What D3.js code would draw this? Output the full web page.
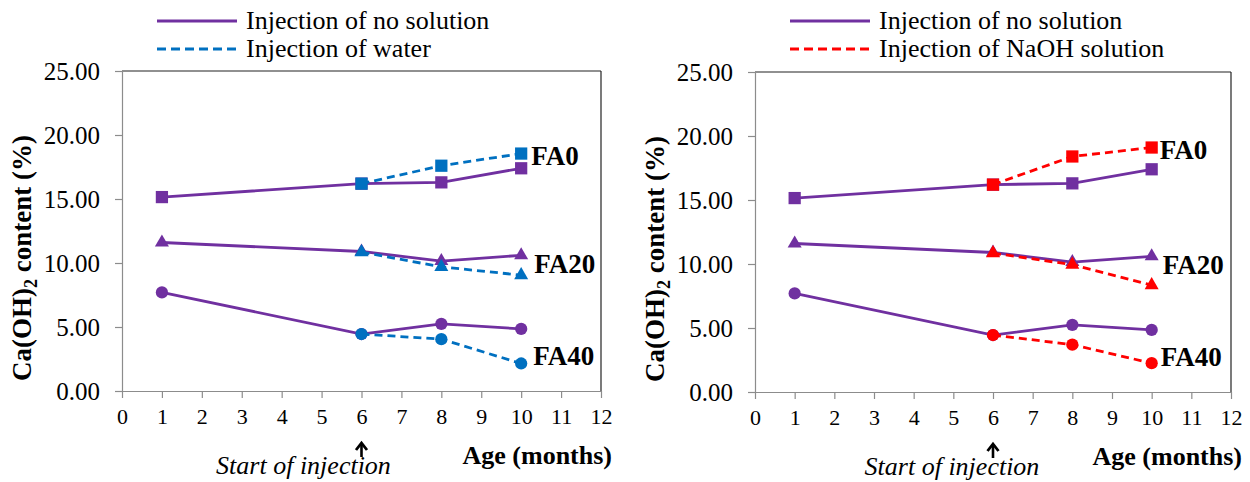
<!DOCTYPE html>
<html>
<head>
<meta charset="utf-8">
<script src="https://cdn.jsdelivr.net/npm/d3@7"></script>
<style>
  html, body { margin: 0; padding: 0; background: #fff; }
  svg { display: block; }
  svg text { font-family: "Liberation Serif", "Times New Roman", Times, "DejaVu Serif", serif; fill: #000; }
</style>
</head>
<body>
<svg id="chart" width="1250" height="482"></svg>
<script>
// ---- data ----
const xTicks = [0,1,2,3,4,5,6,7,8,9,10,11,12];
const yTicks = [0,5,10,15,20,25];
const monthsAll = [1,6,8,10];
const monthsInj = [6,8,10];

const noneFA0  = [15.15, 16.2, 16.3, 17.4];
const noneFA20 = [11.6, 10.9, 10.15, 10.6];
const noneFA40 = [7.7, 4.45, 5.25, 4.85];

const waterFA0  = [16.2, 17.6, 18.55];
const waterFA20 = [10.85, 9.7, 9.05];
const waterFA40 = [4.45, 4.05, 2.15];

const naohFA0  = [16.2, 18.4, 19.1];
const naohFA20 = [10.85, 9.95, 8.35];
const naohFA40 = [4.45, 3.7, 2.25];

const mixLabels = ["FA0", "FA20", "FA40"];
const legendNone = "Injection of no solution";
const legendWater = "Injection of water";
const legendNaOH = "Injection of NaOH solution";

const PURPLE = "#7030A0", BLUE = "#0070C0", RED = "#FF0000";
const SERIF = "'Liberation Serif', 'Times New Roman', serif";

const svg = d3.select("#chart");

function panel(cfg) {
  const x = d3.scaleLinear().domain([0, 12]).range([cfg.left, cfg.right]);
  const y = d3.scaleLinear().domain([0, 25]).range([cfg.bottom, cfg.top]);
  const g = svg.append("g").attr("font-family", SERIF);

  // frame top/right (dark)
  g.append("line").attr("x1", cfg.left).attr("x2", cfg.right).attr("y1", cfg.top).attr("y2", cfg.top)
    .attr("stroke", "#222").attr("stroke-width", 1.2);
  g.append("line").attr("x1", cfg.right).attr("x2", cfg.right).attr("y1", cfg.top).attr("y2", cfg.bottom)
    .attr("stroke", "#222").attr("stroke-width", 1.2);

  // axes
  const xAxis = g.append("g").attr("transform", `translate(0,${cfg.bottom})`)
    .call(d3.axisBottom(x).tickValues(xTicks).tickSize(7).tickSizeOuter(0).tickPadding(10).tickFormat(d3.format("d")));
  xAxis.attr("font-family", SERIF);
  xAxis.select(".domain").attr("stroke", "#8c8c8c").attr("stroke-width", 1.2);
  xAxis.selectAll(".tick line").attr("stroke", "#8c8c8c").attr("stroke-width", 1.2);
  xAxis.selectAll(".tick text").attr("font-size", 22).attr("fill", "#000");

  const yAxis = g.append("g").attr("transform", `translate(${cfg.left},0)`)
    .call(d3.axisLeft(y).tickValues(yTicks).tickSize(7).tickSizeOuter(0).tickPadding(15).tickFormat(d3.format(".2f")));
  yAxis.attr("font-family", SERIF);
  yAxis.select(".domain").attr("stroke", "#8c8c8c").attr("stroke-width", 1.2);
  yAxis.selectAll(".tick line").attr("stroke", "#8c8c8c").attr("stroke-width", 1.2);
  yAxis.selectAll(".tick text").attr("font-size", 25).attr("fill", "#000");

  // y title
  const yt = g.append("text")
    .attr("transform", `translate(${cfg.left - 91},${(cfg.top + cfg.bottom) / 2 + 27}) rotate(-90)`)
    .attr("text-anchor", "middle").attr("font-weight", "bold").attr("font-size", 27);
  yt.append("tspan").text("Ca(OH)");
  yt.append("tspan").text("2").attr("font-size", 18).attr("dy", 6);
  yt.append("tspan").text(" content (%)").attr("dy", -6);

  // x title
  g.append("text").attr("x", cfg.right + 11).attr("y", cfg.bottom + 73)
    .attr("text-anchor", "end").attr("font-weight", "bold").attr("font-size", 26).text("Age (months)");

  // start of injection annotation
  const ax = x(6);
  g.append("line").attr("x1", ax).attr("x2", ax).attr("y1", cfg.bottom + 66).attr("y2", cfg.bottom + 54)
    .attr("stroke", "#000").attr("stroke-width", 2.6);
  g.append("path").attr("d", `M${ax - 5.5},${cfg.bottom + 59} L${ax},${cfg.bottom + 52} L${ax + 5.5},${cfg.bottom + 59}`)
    .attr("fill", "none").attr("stroke", "#000").attr("stroke-width", 2.8);
  g.append("text").attr("x", ax - cfg.annoOffset).attr("y", cfg.bottom + 83)
    .attr("text-anchor", "middle").attr("font-style", "italic").attr("font-size", 26).text("Start of injection");

  // series
  const line = d3.line().x(d => x(d[0])).y(d => y(d[1]));
  const shapes = [d3.symbolSquare, d3.symbolTriangle, d3.symbolCircle];
  const sizes = [150, 85, 118];

  function drawSeries(months, vals, color, dashed, shapeIdx) {
    const pts = months.map((m, i) => [m, vals[i]]);
    g.append("path").datum(pts).attr("d", line).attr("fill", "none")
      .attr("stroke", color).attr("stroke-width", 2.8)
      .attr("stroke-dasharray", dashed ? "8,5" : null);
    g.selectAll(null).data(pts).enter().append("path")
      .attr("d", d3.symbol().type(shapes[shapeIdx]).size(sizes[shapeIdx]))
      .attr("transform", d => `translate(${x(d[0])},${y(d[1])})`)
      .attr("fill", color);
  }

  const noneSets = [noneFA0, noneFA20, noneFA40];
  noneSets.forEach((v, i) => drawSeries(monthsAll, v, PURPLE, false, i));
  cfg.inj.forEach((v, i) => drawSeries(monthsInj, v, cfg.color, true, i));

  // mix labels
  const labelVals = [cfg.inj[0][2] - 0.9, noneFA20[3] - 1.4, noneFA40[3] - 2.8];
  mixLabels.forEach((t, i) => {
    g.append("text").attr("x", x(10) + cfg.labDx[i]).attr("y", y(labelVals[i]))
      .attr("font-weight", "bold").attr("font-size", 27).text(t);
  });

  // legend
  const lx = cfg.left + 35;
  const legendItems = [[legendNone, PURPLE, false], [cfg.legend, cfg.color, true]];
  legendItems.forEach((it, i) => {
    const ly = 21 + i * 28;
    g.append("line").attr("x1", lx).attr("x2", lx + 80).attr("y1", ly).attr("y2", ly)
      .attr("stroke", it[1]).attr("stroke-width", 3.2)
      .attr("stroke-dasharray", it[2] ? "9,5" : null);
    g.append("text").attr("x", lx + 89).attr("y", ly + 8).attr("font-size", 26).text(it[0]);
  });
}

panel({ left: 122, right: 601, top: 71, bottom: 391, color: BLUE, legend: legendWater,
        inj: [waterFA0, waterFA20, waterFA40], annoOffset: 58, labDx: [10, 13, 12] });
panel({ left: 755, right: 1231, top: 72, bottom: 392, color: RED, legend: legendNaOH,
        inj: [naohFA0, naohFA20, naohFA40], annoOffset: 41, labDx: [8, 11, 9] });
</script>
</body>
</html>
